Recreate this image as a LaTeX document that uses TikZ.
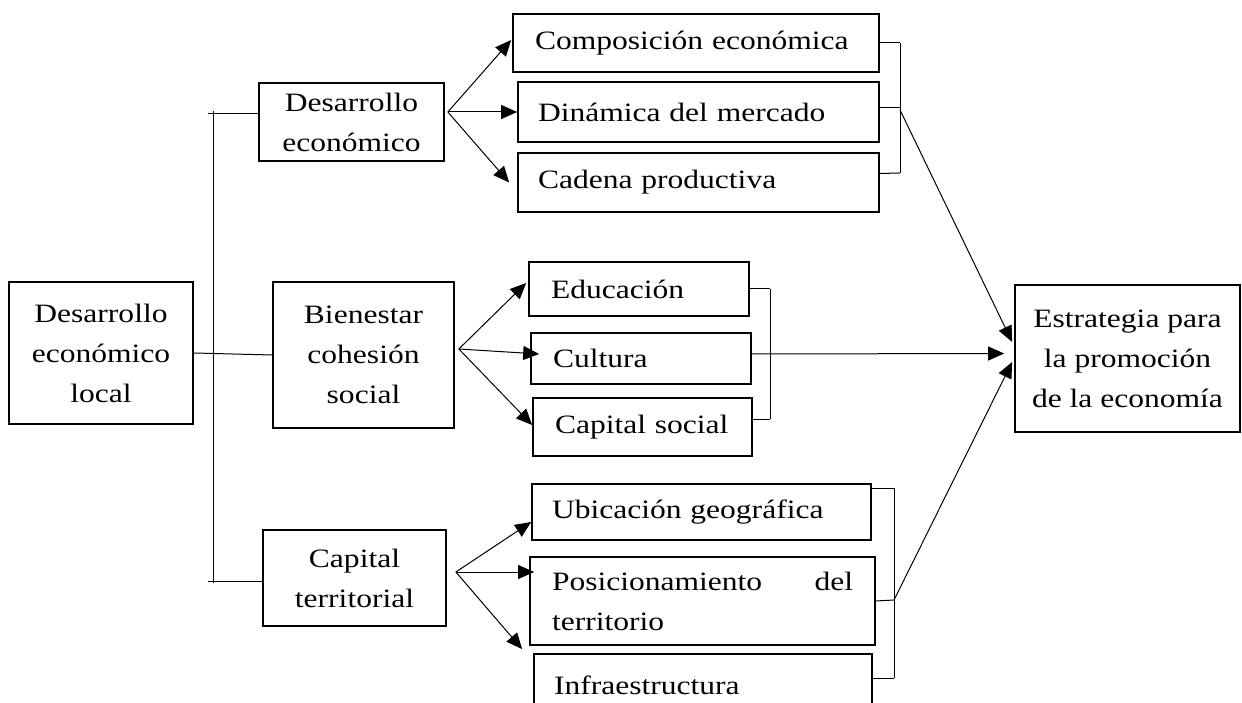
\documentclass[tikz,border=0pt]{standalone}
\usepackage{fontspec}
\setmainfont{Liberation Serif}[FakeStretch=1.19]
\usetikzlibrary{arrows.meta,calc}

\tikzset{
  caja/.style={draw, line width=1.7pt, inner sep=0pt, align=center,
    font=\fontsize{26.5}{40}\selectfont},
  cajaizq/.style={caja, align=left},
  flecha/.style={line width=1pt, -{Triangle[length=16pt,width=14pt]}},
  linea/.style={line width=1pt}
}

\begin{document}
\begin{tikzpicture}[x=1pt,y=-1pt]

  \useasboundingbox (0,0) rectangle (1242,703);
  \clip (0,0) rectangle (1242,703);

  % cajas de la izquierda
  \node[caja, minimum width=184, minimum height=142] (dl) at (101,353) {Desarrollo\\económico\\local};

  \node[caja, minimum width=185, minimum height=78] (de) at (351.5,122) {Desarrollo\\económico};

  \node[caja, minimum width=181, minimum height=146] (bc) at (363.5,355) {Bienestar\\cohesión\\social};

  \node[caja, minimum width=183, minimum height=96] (ct) at (354.5,578) {Capital\\territorial};

  % cajas del centro
  \node[cajaizq, minimum width=366, minimum height=58, text width=322] (ce) at (696,43) {Composición económica};

  \node[cajaizq, minimum width=361, minimum height=60, text width=321] (dm) at (698.5,112) {Dinámica del mercado};

  \node[cajaizq, minimum width=361, minimum height=59, text width=321] (cp) at (698.5,182.5) {Cadena productiva};

  \node[cajaizq, minimum width=220, minimum height=54, text width=176] (ed) at (639,289) {Educación};

  \node[cajaizq, minimum width=220, minimum height=51, text width=176] (cu) at (641,358.5) {Cultura};

  \node[cajaizq, minimum width=219, minimum height=58, text width=175] (cs) at (642.5,427) {Capital social};

  \node[cajaizq, minimum width=339, minimum height=56, text width=299] (ub) at (701.5,512) {Ubicación geográfica};

  \node[cajaizq, minimum width=345, minimum height=88, text width=301] (po) at (702.5,601) {\hbox to 301pt{Posicionamiento\hfill del}\\territorio};

  \node[cajaizq, minimum width=338, minimum height=62, text width=298] (in) at (703,685) {Infraestructura};

  % caja de la derecha
  \node[caja, minimum width=225, minimum height=147] (es) at (1127.5,358.5) {Estrategia para\\la promoción\\de la economía};


  % arbol de la izquierda
  \coordinate (arriba) at (213,111);
  \coordinate (abajo) at (213,583);

  \draw[linea] (arriba) -- (abajo);

  \draw[linea] (208,114) -- (de.west |- 0,114);

  \draw[linea] (dl.east) -- (bc.west);

  \draw[linea] (208,581) -- (ct.west |- 0,581);


  % flechas hacia las cajas del centro
  \coordinate (o1) at ($(de.east)+(3,-10)$);
  \coordinate (o2) at ($(bc.east)+(4,-6)$);
  \coordinate (o3) at ($(ct.east)+(9,-6)$);

  \draw[flecha] (o1) -- ($(ce.west)+(-1,-3)$);

  \draw[flecha] (o1) -- (dm.west);

  \draw[flecha] (o1) -- ($(cp.west)+(-8,0)$);

  \draw[flecha] (o2) -- ($(ed.west)+(-2,-6)$);

  \draw[flecha] (o2) -- ($(cu.west)+(9,-4.5)$);

  \draw[flecha] (o2) -- ($(cs.west)+(0,-2)$);

  \draw[flecha] (o3) -- ($(ub.west)+(0,10)$);

  \draw[flecha] (o3) -- ($(po.west)+(5,-29)$);

  \draw[flecha] (o3) -- ($(in.north west)+(-11,-4)$);


  % llaves de la derecha
  \coordinate (b1) at (900,110);
  \coordinate (b3) at (894,600);

  \draw[linea] (900,43) -- (900,173);

  \draw[linea] (ce.east) -- (900,43);

  \draw[linea] ($(dm.east)+(0,-4)$) -- (900,108);

  \draw[linea] ($(cp.east)+(0,-9)$) -- (900,173);

  \draw[linea] (770,289) -- (770,419);

  \draw[linea] (ed.east) -- (770,289);

  \draw[linea] ($(cs.east)+(0,-8)$) -- (770,419);

  \draw[linea] (894,488) -- (894,678);

  \draw[linea] ($(ub.east)+(0,-24)$) -- (894,488);

  \draw[linea] (po.east) -- (b3);

  \draw[linea] ($(in.east)+(0,-7)$) -- (894,678);


  % flechas hacia la estrategia
  \draw[flecha] (b1) -- ($(es.west)+(-2,-16.5)$);

  \draw[flecha] ($(cu.east)+(0,-4.5)$) -- ($(es.west)+(-10,-5)$);

  \draw[flecha] (b3) -- ($(es.west)+(-2,3.5)$);

\end{tikzpicture}
\end{document}
